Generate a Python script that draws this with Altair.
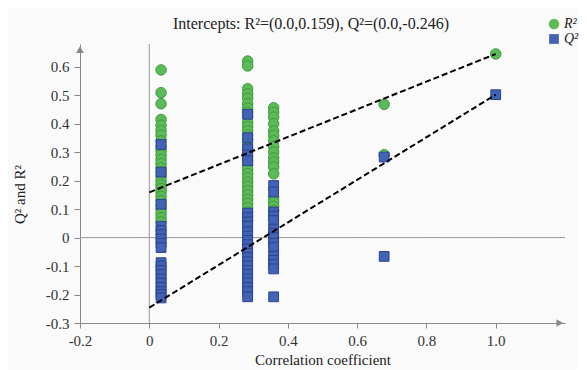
import altair as alt
import pandas as pd

# ---- data ----
cluster_x = [0.034, 0.284, 0.359, 0.678, 1.0]

r2_vals = [
    [0.589, 0.509, 0.470, 0.415, 0.395, 0.376, 0.360, 0.340, 0.320, 0.305, 0.290,
     0.275, 0.260, 0.245, 0.230, 0.215, 0.200, 0.185, 0.172, 0.160, 0.145, 0.130,
     0.115, 0.100, 0.085, 0.070, 0.055],
    [0.620, 0.603, 0.523, 0.505, 0.490, 0.470, 0.455, 0.440, 0.425, 0.405, 0.390,
     0.375, 0.360, 0.345, 0.330, 0.315, 0.300, 0.285, 0.270, 0.255, 0.240, 0.225,
     0.210, 0.195, 0.180, 0.165, 0.150, 0.135, 0.120, 0.105, 0.090, 0.075, 0.060],
    [0.456, 0.440, 0.423, 0.400, 0.375, 0.359, 0.340, 0.320, 0.300, 0.280, 0.265,
     0.248, 0.224, 0.140, 0.125, 0.110, 0.095],
    [0.468, 0.291],
    [0.645],
]

q2_vals = [
    [0.327, 0.230, 0.117, 0.040, 0.025, 0.010, -0.005, -0.020, -0.035, -0.088,
     -0.100, -0.115, -0.130, -0.145, -0.160, -0.175, -0.190, -0.200, -0.212],
    [0.433, 0.351, 0.312, 0.290, 0.270, 0.086, 0.070, 0.055, 0.040, 0.020, 0.005,
     -0.010, -0.025, -0.040, -0.055, -0.070, -0.085, -0.100, -0.115, -0.130,
     -0.145, -0.160, -0.175, -0.190, -0.208],
    [0.183, 0.160, 0.090, 0.075, 0.060, 0.030, 0.015, 0.000, -0.020, -0.035,
     -0.065, -0.080, -0.095, -0.110, -0.208],
    [0.283, -0.066],
    [0.502],
]

series_names = ["R²", "Q²"]
intercepts = [0.159, -0.246]
model_values = [0.645, 0.502]
x_ticks = [-0.2, 0.0, 0.2, 0.4, 0.6, 0.8, 1.0]
y_ticks = [-0.3, -0.2, -0.1, 0.0, 0.1, 0.2, 0.3, 0.4, 0.5, 0.6]
title_text = ["Intercepts: R²=(0.0,0.159), Q²=(0.0,-0.246)"]

# ---- build tables ----
rows = []
for name, groups in zip(series_names, [r2_vals, q2_vals]):
    for cx, vals in zip(cluster_x, groups):
        for v in vals:
            rows.append({"x": cx, "y": v, "series": name})
pts = pd.DataFrame(rows)

line_rows = []
for name, b, m in zip(series_names, intercepts, model_values):
    line_rows.append({"x": 0.0, "y": b, "series": name})
    line_rows.append({"x": 1.0, "y": m, "series": name})
lines = pd.DataFrame(line_rows)

zero_df = pd.DataFrame({"v": [0.0]})
title_df = pd.DataFrame({"t": title_text})

FONT = "Liberation Serif"
label_expr = ("datum.value == 0 ? '0' : (datum.value < 0 ? '-' + format(-datum.value, '.1f') "
              ": format(datum.value, '.1f'))")

xs = alt.Scale(domain=[-0.2, 1.2], nice=False, zero=False)
ys = alt.Scale(domain=[-0.3, 0.68], nice=False, zero=False)

x_axis = alt.Axis(values=x_ticks, tickCount=20, labelExpr=label_expr,
                  title="Correlation coefficient",
                  titleFont=FONT, titleFontSize=15, titleFontWeight="normal", titleColor="#222",
                  labelFont=FONT, labelFontSize=15, labelColor="#333", tickColor="#888",
                  domainColor="#888", tickSize=5, labelPadding=5, titlePadding=4,
                  grid=True, gridColor="#ececec", gridDash=[1, 8], labelFlush=False,
                  labelOverlap=False)
y_axis = alt.Axis(values=y_ticks, tickCount=20, labelExpr=label_expr, title="Q² and R²",
                  titleFont=FONT, titleFontSize=15, titleFontWeight="normal", titleColor="#222",
                  labelFont=FONT, labelFontSize=15, labelColor="#333", tickColor="#888",
                  domainColor="#888", tickSize=6, labelPadding=5, labelOverlap=False,
                  grid=True, gridColor="#ececec", gridDash=[1, 8],
                  titleX=-53, titleY=150)

green, blue = "#5cbb58", "#4262b6"
green_s, blue_s = "#3f9a3d", "#2c448f"

zero_v = alt.Chart(zero_df).mark_rule(color="#9a9a9a", strokeWidth=1).encode(
    x=alt.X("v:Q", scale=xs, axis=x_axis))
zero_h = alt.Chart(zero_df).mark_rule(color="#9a9a9a", strokeWidth=1).encode(
    y=alt.Y("v:Q", scale=ys, axis=y_axis))

points = alt.Chart(pts).mark_point(filled=True, opacity=1, strokeWidth=1).encode(
    x=alt.X("x:Q", scale=xs, axis=x_axis),
    y=alt.Y("y:Q", scale=ys, axis=y_axis),
    color=alt.Color("series:N", scale=alt.Scale(domain=series_names, range=[green, blue]),
                    legend=alt.Legend(title=None, orient="none", legendX=467, legendY=-27,
                                      labelFont=FONT, labelFontSize=14, labelFontStyle="italic",
                                      labelColor="#222", symbolSize=100, rowPadding=1,
                                      labelOffset=3, padding=0, symbolStrokeWidth=0)),
    shape=alt.Shape("series:N", scale=alt.Scale(domain=series_names, range=["circle", "square"])),
    stroke=alt.Stroke("series:N", scale=alt.Scale(domain=series_names, range=[green_s, blue_s]),
                      legend=None),
    size=alt.Size("series:N", scale=alt.Scale(domain=series_names, range=[110, 95]), legend=None),
)

reg = alt.Chart(lines).mark_line(color="black", strokeDash=[6, 3], strokeWidth=2).encode(
    x=alt.X("x:Q", scale=xs), y=alt.Y("y:Q", scale=ys), detail="series:N")

arrow_up = alt.Chart(zero_df).mark_point(shape="triangle-up", filled=True, color="#888",
                                          size=60, opacity=1).encode(
    x=alt.datum(-0.2), y=alt.datum(0.66))
arrow_right = alt.Chart(zero_df).mark_point(shape="triangle-right", filled=True, color="#888",
                                             size=60, opacity=1).encode(
    x=alt.datum(1.185), y=alt.datum(-0.3))

title = alt.Chart(title_df).mark_text(font=FONT, fontSize=16, color="#222", align="center",
                                      baseline="middle").encode(
    text="t:N", x=alt.value(231), y=alt.value(-20))

chart = alt.layer(zero_v, zero_h, points, reg, arrow_up, arrow_right, title).properties(
    width=485, height=279,
    autosize=alt.AutoSizeParams(type="none"),
    padding={"left": 72, "top": 36, "right": 14, "bottom": 46},
    background="#fafafa",
).configure_view(stroke=None)

chart.save("out.html", embed_options={"renderer": "svg", "actions": False})
